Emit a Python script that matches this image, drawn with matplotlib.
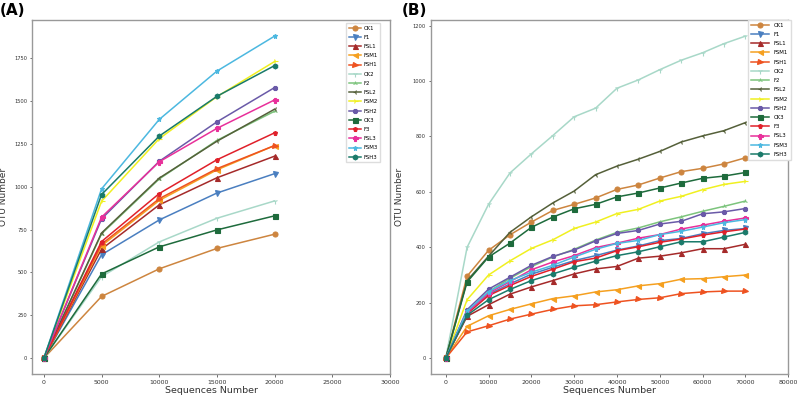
import matplotlib
matplotlib.use("Agg")
import matplotlib.pyplot as plt

names = ["CK1", "F1", "FSL1", "FSM1", "FSH1", "CK2", "F2", "FSL2", "FSM2",
         "FSH2", "CK3", "F3", "FSL3", "FSM3", "FSH3"]
colors = ["#cd853f", "#4a7fc0", "#a52a2a", "#f5a020", "#ee5220", "#a8d8c8",
          "#7cc47c", "#55603a", "#f0f020", "#6a5aa8", "#1e6b3c", "#e0202a",
          "#e8309a", "#4cb8e0", "#1a7a6a"]
markers = ["o", "v", "^", "<", ">", "1", "2", "3", "4", "8", "s", "p", "P", "*", "h"]

# Panel A
x_a = [0, 5000, 10000, 15000, 20000]
a_CK1 = [0, 360, 521, 640, 723]
a_F1 = [0, 603, 806, 963, 1076]
a_FSL1 = [0, 636, 894, 1052, 1178]
a_FSM1 = [0, 655, 920, 1098, 1240]
a_FSH1 = [0, 665, 930, 1105, 1240]
a_CK2 = [0, 475, 678, 816, 917]
a_F2 = [0, 725, 1045, 1270, 1440]
a_FSL2 = [0, 730, 1050, 1265, 1452]
a_FSM2 = [0, 915, 1280, 1525, 1730]
a_FSH2 = [0, 812, 1148, 1378, 1578]
a_CK3 = [0, 491, 649, 748, 830]
a_F3 = [0, 680, 960, 1157, 1314]
a_FSL3 = [0, 822, 1145, 1340, 1506]
a_FSM3 = [0, 987, 1392, 1674, 1878]
a_FSH3 = [0, 954, 1295, 1527, 1706]
series_a = [a_CK1, a_F1, a_FSL1, a_FSM1, a_FSH1, a_CK2, a_F2, a_FSL2, a_FSM2,
            a_FSH2, a_CK3, a_F3, a_FSL3, a_FSM3, a_FSH3]

# Panel B
x_b = [0, 5000, 10000, 15000, 20000, 25000, 30000, 35000, 40000, 45000,
       50000, 55000, 60000, 65000, 70000]
b_CK1 = [0, 296, 389, 445, 491, 533, 555, 578, 609, 625, 650, 673, 685, 701, 723]
b_F1 = [0, 168, 230, 268, 303, 328, 352, 370, 390, 405, 424, 432, 449, 461, 468]
b_FSL1 = [0, 151, 193, 231, 257, 280, 304, 322, 331, 361, 368, 380, 395, 395, 411]
b_FSM1 = [0, 115, 153, 176, 196, 215, 225, 239, 247, 261, 269, 285, 287, 294, 300]
b_FSH1 = [0, 95, 117, 141, 159, 176, 189, 193, 203, 212, 218, 233, 239, 242, 242]
b_CK2 = [0, 400, 555, 668, 737, 803, 871, 902, 974, 1004, 1041, 1075, 1102, 1135, 1162]
b_F2 = [0, 165, 240, 288, 330, 365, 393, 426, 454, 470, 492, 510, 530, 548, 567]
b_FSL2 = [0, 280, 368, 454, 510, 560, 603, 662, 693, 718, 746, 780, 802, 821, 850]
b_FSM2 = [0, 211, 300, 351, 396, 427, 468, 491, 522, 537, 567, 584, 608, 627, 638]
b_FSH2 = [0, 175, 249, 292, 335, 367, 390, 423, 450, 461, 484, 494, 521, 528, 540]
b_CK3 = [0, 275, 365, 415, 472, 509, 539, 555, 582, 596, 614, 632, 649, 657, 670]
b_F3 = [0, 160, 226, 262, 295, 321, 348, 361, 388, 402, 418, 430, 444, 456, 466]
b_FSL3 = [0, 165, 235, 276, 319, 347, 370, 399, 415, 433, 446, 466, 480, 494, 506]
b_FSM3 = [0, 170, 240, 280, 310, 335, 365, 393, 414, 425, 446, 458, 473, 489, 500]
b_FSH3 = [0, 155, 211, 248, 280, 304, 328, 350, 370, 384, 402, 420, 420, 437, 454]
series_b = [b_CK1, b_F1, b_FSL1, b_FSM1, b_FSH1, b_CK2, b_F2, b_FSL2, b_FSM2,
            b_FSH2, b_CK3, b_F3, b_FSL3, b_FSM3, b_FSH3]

xticks_a = [0, 5000, 10000, 15000, 20000, 25000, 30000]
yticks_a = [0, 250, 500, 750, 1000, 1250, 1500, 1750]
xticks_b = [0, 10000, 20000, 30000, 40000, 50000, 60000, 70000, 80000]
yticks_b = [0, 200, 400, 600, 800, 1000, 1200]

fig = plt.figure(figsize=(7.98, 3.96), dpi=100)
axA = fig.add_axes([32.3 / 798, (396 - 374.3) / 396, 357.7 / 798, 354.3 / 396])
axB = fig.add_axes([430.7 / 798, (396 - 374.3) / 396, 357.6 / 798, 354.3 / 396])


def style(ax, x, series, xticks, yticks):
    for name, c, m, ys in zip(names, colors, markers, series):
        ax.plot(x, ys, color=c, marker=m, markersize=3.6, linewidth=1.1,
                markeredgewidth=0.8, label=name)
    ax.set_xticks(xticks)
    ax.set_yticks(yticks)
    for s in ax.spines.values():
        s.set_color("#999999")
        s.set_linewidth(1.0)
    ax.tick_params(axis="x", labelsize=4.5, length=2, width=0.6, pad=2,
                   colors="#555555", labelcolor="#333333")
    ax.tick_params(axis="y", labelsize=3.7, length=1.5, width=0.6, pad=2,
                   colors="#555555", labelcolor="#333333")
    ax.set_xlabel("Sequences Number", fontsize=6.8, color="#333333", labelpad=0.5)
    ax.set_ylabel("OTU Number", fontsize=6.5, color="#333333")


style(axA, x_a, series_a, xticks_a, yticks_a)
style(axB, x_b, series_b, xticks_b, yticks_b)
axA.yaxis.set_label_coords(-0.068, 0.5)
axB.yaxis.set_label_coords(-0.074, 0.5)

axA.legend(loc="upper left", bbox_to_anchor=(0.877, 0.992), fontsize=3.9,
           handlelength=2.2, handletextpad=0.5, labelspacing=0.78,
           borderpad=0.5, frameon=True, fancybox=False, edgecolor="#dddddd",
           framealpha=1.0, borderaxespad=0)
axB.legend(loc="upper left", bbox_to_anchor=(0.887, 1.0), fontsize=3.9,
           handlelength=3.4, handletextpad=0.9, labelspacing=0.78,
           borderpad=0.5, frameon=True, fancybox=False, edgecolor="#dddddd",
           framealpha=1.0, borderaxespad=0)

fig.text(0.0, 0.992, "(A)", fontsize=11, fontweight="bold", ha="left", va="top")
fig.text(402 / 798, 0.992, "(B)", fontsize=11, fontweight="bold", ha="left", va="top")

fig.savefig("out.png", dpi=100)
